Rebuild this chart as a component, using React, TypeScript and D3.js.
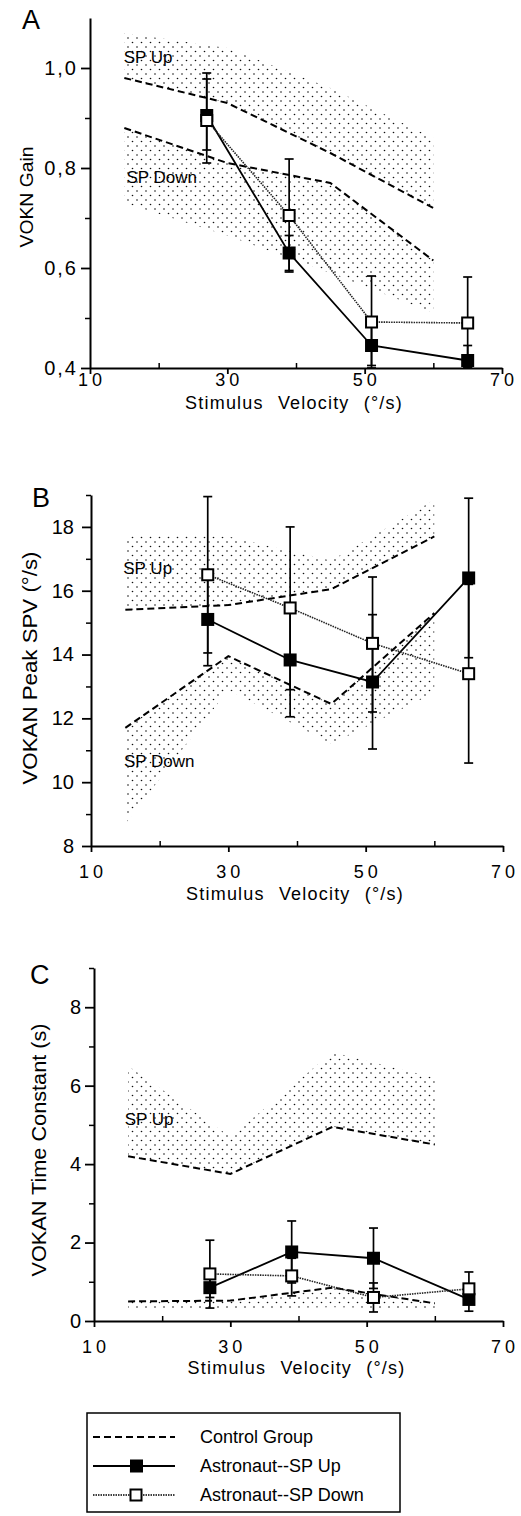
import React, { useEffect, useRef } from "react";
import * as d3 from "d3";

const FONT = "'Liberation Sans', Arial, Helvetica, sans-serif";

// stimulus velocities
const velocity = [27, 39, 51, 65];
const controlVelocity = [15, 30, 45, 60];
const xMajor = [10, 30, 50, 70];
const xMinor = [20, 40, 60];

// A: VOKN gain
const gainTicks = [0.4, 0.6, 0.8, 1.0];
const gainMinor = [0.5, 0.7, 0.9];
const gainCtrlUp = [0.98, 0.93, 0.83, 0.72];
const gainCtrlUpBand = [1.07, 1.04, 0.96, 0.86];
const gainCtrlDown = [0.88, 0.81, 0.77, 0.615];
const gainCtrlDownBand = [0.73, 0.665, 0.59, 0.51];
const gainUp = [0.905, 0.63, 0.445, 0.415];
const gainUpHi = [0.99, 0.665, 0.485, 0.445];
const gainUpLo = [0.81, 0.595, 0.405, 0.4];
const gainDown = [0.895, 0.705, 0.492, 0.49];
const gainDownHi = [0.978, 0.818, 0.584, 0.582];
const gainDownLo = [0.836, 0.592, 0.4, 0.4];

// B: VOKAN peak SPV
const spvTicks = [8, 10, 12, 14, 16, 18];
const spvMinor = [9, 11, 13, 15, 17, 19];
const spvCtrlUp = [15.4, 15.55, 16.05, 17.7];
const spvCtrlUpBand = [17.75, 17.7, 16.95, 18.85];
const spvCtrlDown = [11.7, 13.95, 12.45, 15.3];
const spvCtrlDownBand = [8.7, 12.9, 11.2, 12.8];
const spvUp = [15.1, 13.83, 13.14, 16.4];
const spvUpHi = [16.55, 15.6, 15.25, 18.9];
const spvUpLo = [13.65, 12.05, 11.04, 13.9];
const spvDown = [16.5, 15.46, 14.35, 13.4];
const spvDownHi = [18.95, 18.0, 16.43, 16.2];
const spvDownLo = [14.05, 12.9, 12.2, 10.6];

// C: VOKAN time constant
const tcTicks = [0, 2, 4, 6, 8];
const tcMinor = [1, 3, 5, 7, 9];
const tcCtrlUp = [4.2, 3.75, 4.95, 4.5];
const tcCtrlUpBand = [6.5, 4.7, 6.85, 6.2];
const tcCtrlDown = [0.5, 0.52, 0.85, 0.45];
const tcCtrlDownBand = [0.3, 0.3, 0.35, 0.3];
const tcUp = [0.85, 1.76, 1.6, 0.55];
const tcUpHi = [1.3, 2.55, 2.37, 0.9];
const tcUpLo = [0.33, 0.97, 0.83, 0.25];
const tcDown = [1.2, 1.15, 0.6, 0.82];
const tcDownHi = [2.06, 1.6, 0.97, 1.25];
const tcDownLo = [0.6, 0.64, 0.23, 0.45];

const legendItems = ["Control Group", "Astronaut--SP Up", "Astronaut--SP Down"];

const comma = (d: number) => d3.format(".1f")(d).replace(".", ",");

const panels = [
  {
    letter: "A", yTitle: "VOKN Gain", yDomain: [0.4, 1.1], yTicks: gainTicks, yMinor: gainMinor, fmt: comma,
    ctrlUp: gainCtrlUp, ctrlUpBand: gainCtrlUpBand, ctrlDown: gainCtrlDown, ctrlDownBand: gainCtrlDownBand,
    up: gainUp, upHi: gainUpHi, upLo: gainUpLo, down: gainDown, downHi: gainDownHi, downLo: gainDownLo,
    upLabel: [14.9, 1.01], downLabel: [15.3, 0.77],
    xRange: [90, 502], yRange: [368, 18], tickPad: 3, tickSpacing: 2,
    xTickBase: 386, xTitleBase: 409, yTitleX: 33, yTitleY: 197, yTitleLen: 101, yTitleSize: 19,
    letterX: 22, letterY: 29,
  },
  {
    letter: "B", yTitle: "VOKAN Peak SPV (°/s)", yDomain: [8, 19], yTicks: spvTicks, yMinor: spvMinor, fmt: d3.format("d"),
    ctrlUp: spvCtrlUp, ctrlUpBand: spvCtrlUpBand, ctrlDown: spvCtrlDown, ctrlDownBand: spvCtrlDownBand,
    up: spvUp, upHi: spvUpHi, upLo: spvUpLo, down: spvDown, downHi: spvDownHi, downLo: spvDownLo,
    upLabel: [14.7, 16.53], downLabel: [14.8, 10.48],
    xRange: [91, 503], yRange: [846, 495], tickPad: 8, tickSpacing: 0,
    xTickBase: 878, xTitleBase: 900, yTitleX: 37, yTitleY: 668, yTitleLen: 233, yTitleSize: 21,
    letterX: 32, letterY: 507,
  },
  {
    letter: "C", yTitle: "VOKAN Time Constant (s)", yDomain: [0, 9], yTicks: tcTicks, yMinor: tcMinor, fmt: d3.format("d"),
    ctrlUp: tcCtrlUp, ctrlUpBand: tcCtrlUpBand, ctrlDown: tcCtrlDown, ctrlDownBand: tcCtrlDownBand,
    up: tcUp, upHi: tcUpHi, upLo: tcUpLo, down: tcDown, downHi: tcDownHi, downLo: tcDownLo,
    upLabel: [14.5, 5.0], downLabel: null,
    xRange: [94, 503], yRange: [1321, 968], tickPad: 4, tickSpacing: 0,
    xTickBase: 1353, xTitleBase: 1374, yTitleX: 46, yTitleY: 1150, yTitleLen: 253, yTitleSize: 21,
    letterX: 30, letterY: 984,
  },
];

const App = () => {
  const ref = useRef<SVGSVGElement>(null);

  useEffect(() => {
    const svg = d3.select(ref.current);
    svg.selectAll("*").remove();

    const pat = svg
      .append("defs")
      .append("pattern")
      .attr("id", "dots")
      .attr("patternUnits", "userSpaceOnUse")
      .attr("width", 9)
      .attr("height", 9);
    pat.append("circle").attr("cx", 2).attr("cy", 2).attr("r", 0.8).attr("fill", "#111");
    pat.append("circle").attr("cx", 6.5).attr("cy", 6.5).attr("r", 0.8).attr("fill", "#111");

    panels.forEach((p) => {
      const x = d3.scaleLinear().domain([10, 70]).range(p.xRange);
      const y = d3.scaleLinear().domain(p.yDomain).range(p.yRange);
      const g = svg.append("g").attr("font-family", FONT);
      const idx = d3.range(controlVelocity.length);

      // control SD bands
      const band = (hi: number[], lo: number[]) =>
        d3
          .area<number>()
          .x((i) => x(controlVelocity[i]))
          .y0((i) => y(lo[i]))
          .y1((i) => y(hi[i]))(idx);
      g.append("path").attr("d", band(p.ctrlUpBand, p.ctrlUp)).attr("fill", "url(#dots)");
      g.append("path").attr("d", band(p.ctrlDown, p.ctrlDownBand)).attr("fill", "url(#dots)");

      // control means
      const ctrlLine = d3
        .line<number>()
        .x((d, i) => x(controlVelocity[i]))
        .y((d) => y(d));
      [p.ctrlUp, p.ctrlDown].forEach((vals) => {
        g.append("path")
          .attr("d", ctrlLine(vals))
          .attr("fill", "none")
          .attr("stroke", "#000")
          .attr("stroke-width", 2)
          .attr("stroke-dasharray", "7,4");
      });

      // axes
      const yAxisG = g
        .append("g")
        .attr("transform", `translate(${p.xRange[0]},0)`)
        .call(
          d3.axisLeft(y).tickValues(p.yTicks).tickSize(9).tickSizeOuter(0).tickPadding(p.tickPad).tickFormat(p.fmt as any)
        );
      yAxisG.select(".domain").attr("stroke-width", 2);
      yAxisG.selectAll(".tick line").attr("stroke-width", 1.8);
      yAxisG
        .selectAll("text")
        .attr("font-family", FONT)
        .attr("font-size", 20)
        .attr("fill", "#000")
        .attr("letter-spacing", p.tickSpacing);

      const yMinorG = g
        .append("g")
        .attr("transform", `translate(${p.xRange[0]},0)`)
        .call(d3.axisLeft(y).tickValues(p.yMinor).tickSize(5).tickFormat(() => ""));
      yMinorG.select(".domain").remove();
      yMinorG.selectAll(".tick line").attr("stroke-width", 1.5);

      const xAxisG = g
        .append("g")
        .attr("transform", `translate(0,${p.yRange[0]})`)
        .call(d3.axisBottom(x).tickValues(xMajor).tickSize(6).tickSizeOuter(0).tickFormat(() => ""));
      xAxisG.select(".domain").attr("stroke-width", 2);
      xAxisG.selectAll(".tick line").attr("stroke-width", 1.8);

      const xMinorG = g
        .append("g")
        .attr("transform", `translate(0,${p.yRange[0]})`)
        .call(d3.axisBottom(x).tickValues(xMinor).tickSize(-5).tickFormat(() => ""));
      xMinorG.select(".domain").remove();
      xMinorG.selectAll(".tick line").attr("stroke-width", 1.5);

      g.selectAll(".xlab")
        .data(xMajor)
        .join("text")
        .attr("x", (d) => x(d) + 2)
        .attr("y", p.xTickBase)
        .attr("text-anchor", "middle")
        .attr("font-size", 18)
        .attr("letter-spacing", 4)
        .text((d) => d);

      g.append("text")
        .attr("x", x(40) - 2)
        .attr("y", p.xTitleBase)
        .attr("text-anchor", "middle")
        .attr("font-size", 18)
        .attr("letter-spacing", 1.2)
        .attr("word-spacing", 8)
        .text("Stimulus Velocity (°/s)");

      g.append("text")
        .attr("transform", `translate(${p.yTitleX},${p.yTitleY}) rotate(-90)`)
        .attr("text-anchor", "middle")
        .attr("font-size", p.yTitleSize)
        .attr("textLength", p.yTitleLen)
        .attr("lengthAdjust", "spacingAndGlyphs")
        .text(p.yTitle);

      g.append("text")
        .attr("x", p.letterX)
        .attr("y", p.letterY)
        .attr("font-size", 27)
        .text(p.letter);

      // band labels
      g.append("text")
        .attr("x", x(p.upLabel[0]))
        .attr("y", y(p.upLabel[1]))
        .attr("font-size", 17)
        .text("SP Up");
      if (p.downLabel) {
        g.append("text")
          .attr("x", x(p.downLabel[0]))
          .attr("y", y(p.downLabel[1]))
          .attr("font-size", 17)
          .text("SP Down");
      }

      // astronaut error bars
      const errorBars = (hi: number[], lo: number[]) => {
        const eb = g.append("g").attr("stroke", "#000").attr("stroke-width", 1.7);
        velocity.forEach((v, i) => {
          eb.append("line").attr("x1", x(v)).attr("x2", x(v)).attr("y1", y(hi[i])).attr("y2", y(lo[i]));
          [hi[i], lo[i]].forEach((c) => {
            eb.append("line")
              .attr("x1", x(v) - 4.5)
              .attr("x2", x(v) + 4.5)
              .attr("y1", y(c))
              .attr("y2", y(c));
          });
        });
      };
      errorBars(p.upHi, p.upLo);
      errorBars(p.downHi, p.downLo);

      const astroLine = d3
        .line<number>()
        .x((d, i) => x(velocity[i]))
        .y((d) => y(d));
      g.append("path")
        .attr("d", astroLine(p.up))
        .attr("fill", "none")
        .attr("stroke", "#000")
        .attr("stroke-width", 1.8);
      g.append("path")
        .attr("d", astroLine(p.down))
        .attr("fill", "none")
        .attr("stroke", "#222")
        .attr("stroke-width", 1.6)
        .attr("stroke-dasharray", "1.5,1");

      const s = 13;
      g.selectAll(".upSq")
        .data(p.up)
        .join("rect")
        .attr("x", (d, i) => x(velocity[i]) - s / 2)
        .attr("y", (d) => y(d) - s / 2)
        .attr("width", s)
        .attr("height", s)
        .attr("fill", "#000");
      g.selectAll(".downSq")
        .data(p.down)
        .join("rect")
        .attr("x", (d, i) => x(velocity[i]) - (s - 2) / 2)
        .attr("y", (d) => y(d) - (s - 2) / 2)
        .attr("width", s - 2)
        .attr("height", s - 2)
        .attr("fill", "#fff")
        .attr("stroke", "#000")
        .attr("stroke-width", 2);
    });

    // legend
    const lg = svg.append("g").attr("font-family", FONT);
    lg.append("rect")
      .attr("x", 87)
      .attr("y", 1413)
      .attr("width", 313)
      .attr("height", 99)
      .attr("fill", "none")
      .attr("stroke", "#000")
      .attr("stroke-width", 1.5);
    const rowY = d3.scalePoint().domain(legendItems).range([1437, 1495]);
    legendItems.forEach((name, i) => {
      const yy = rowY(name) as number;
      const ln = lg
        .append("line")
        .attr("x1", 93)
        .attr("x2", 175)
        .attr("y1", yy)
        .attr("y2", yy)
        .attr("stroke", "#000");
      if (i === 0) ln.attr("stroke-width", 2).attr("stroke-dasharray", "7,4");
      if (i === 1) {
        ln.attr("stroke-width", 1.8);
        lg.append("rect").attr("x", 130).attr("y", yy - 6.5).attr("width", 13).attr("height", 13).attr("fill", "#000");
      }
      if (i === 2) {
        ln.attr("stroke-width", 1.6).attr("stroke-dasharray", "1.5,1");
        lg.append("rect")
          .attr("x", 130.5)
          .attr("y", yy - 5.5)
          .attr("width", 11)
          .attr("height", 11)
          .attr("fill", "#fff")
          .attr("stroke", "#000")
          .attr("stroke-width", 2);
      }
      lg.append("text")
        .attr("x", 200)
        .attr("y", yy + 6)
        .attr("font-size", 18)
        .text(name);
    });
  }, []);

  return (
    <div>
      <style>{"body{margin:0}"}</style>
      <svg ref={ref} width={521} height={1516} style={{ display: "block", background: "#fff" }} />
    </div>
  );
};

export default App;
